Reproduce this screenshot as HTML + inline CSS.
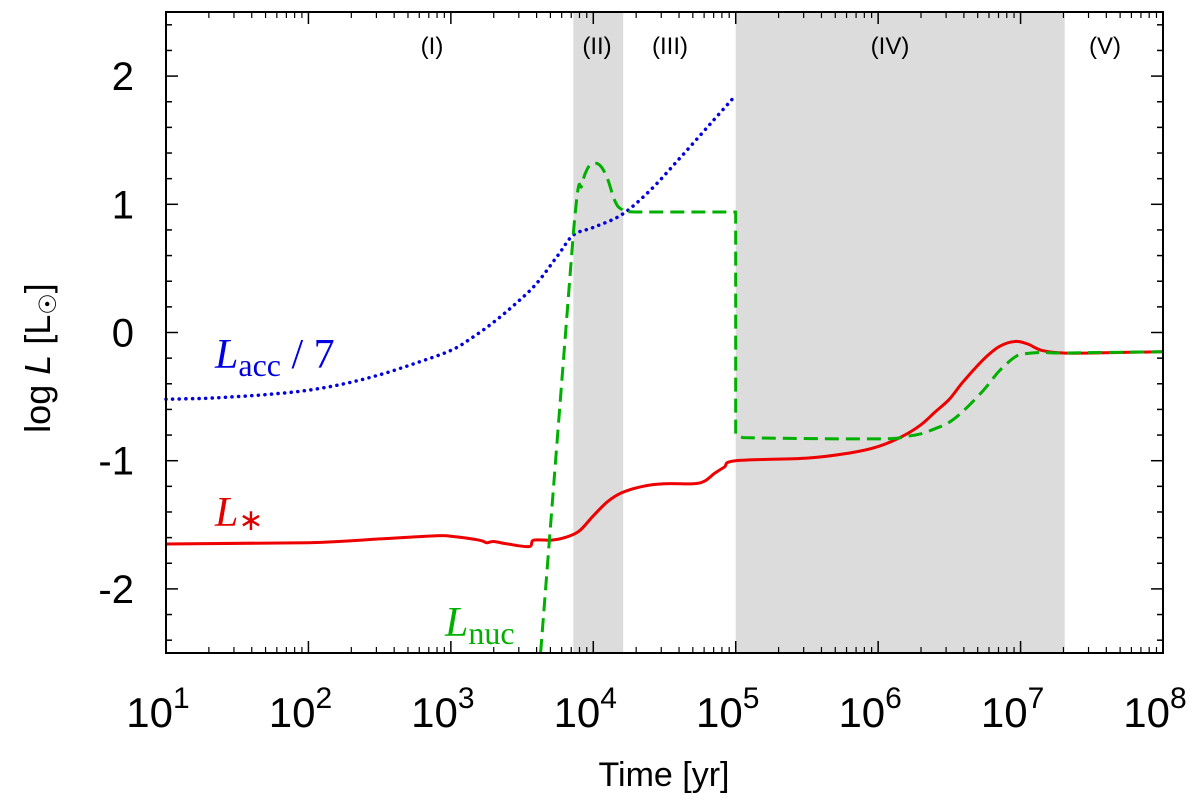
<!DOCTYPE html>
<html><head><meta charset="utf-8"><style>
body{margin:0;background:#fff}
</style></head><body>
<svg id="chart" width="1200" height="799" xmlns="http://www.w3.org/2000/svg" font-family="Liberation Sans, sans-serif">
<g id="bands"></g>
<g id="series"></g>
<g id="axes"></g>
<g id="labels">
<text x="432" y="54" font-size="24" text-anchor="middle">(I)</text>
<text x="597" y="54" font-size="24" text-anchor="middle">(II)</text>
<text x="670" y="54" font-size="24" text-anchor="middle">(III)</text>
<text x="890" y="54" font-size="24" text-anchor="middle">(IV)</text>
<text x="1105" y="54" font-size="24" text-anchor="middle">(V)</text>
<text x="215" y="368" style="font-family:'Liberation Serif',serif;font-size:42px" fill="#0000e0"><tspan font-style="italic">L</tspan><tspan style="font-size:32px" dy="8">acc</tspan><tspan dy="-8"> / 7</tspan></text>
<text x="215" y="526" style="font-family:'Liberation Serif',serif;font-size:42px" fill="#e00000"><tspan font-style="italic">L</tspan><tspan style="font-size:30px" dy="4">∗</tspan></text>
<text x="445" y="636" style="font-family:'Liberation Serif',serif;font-size:42px" fill="#00b000"><tspan font-style="italic">L</tspan><tspan style="font-size:32px" dy="8">nuc</tspan></text>
<text x="664" y="786" font-size="34" text-anchor="middle">Time [yr]</text>
<text transform="translate(50,358) rotate(-90)" font-size="36" text-anchor="middle">log <tspan font-style="italic">L</tspan> [L<tspan font-size="24" dy="6">☉</tspan><tspan dy="-6">]</tspan></text>
</g>
</svg>
<script>
const bandStarts=[3.86,5.0];
const bandEnds=[4.21,7.31];
const xTicks=[1,2,3,4,5,6,7,8];
const yTicks=[-2,-1,0,1,2];
const yTickLabels=["-2","-1","0","1","2"];
const lstarT=[1,2,2.5,2.9,3.0,3.2,3.25,3.3,3.4,3.55,3.58,3.7,3.8,3.9,4.0,4.1,4.2,4.35,4.5,4.7,4.78,4.85,4.92,5.0,5.5,5.8,6.0,6.17,6.3,6.4,6.5,6.6,6.74,6.85,6.96,7.05,7.15,7.3,7.5,8];
const lstarL=[-1.65,-1.64,-1.61,-1.585,-1.59,-1.62,-1.64,-1.63,-1.65,-1.67,-1.62,-1.62,-1.6,-1.55,-1.43,-1.32,-1.25,-1.2,-1.18,-1.18,-1.16,-1.1,-1.05,-1.0,-0.98,-0.94,-0.89,-0.81,-0.72,-0.62,-0.52,-0.38,-0.21,-0.11,-0.07,-0.09,-0.14,-0.16,-0.16,-0.15];
const laccT=[1,1.25,1.5,1.75,2,2.25,2.5,2.75,3,3.15,3.3,3.45,3.6,3.75,3.86,4.0,4.2,4.4,4.6,4.8,5.0];
const laccL=[-0.52,-0.515,-0.5,-0.48,-0.45,-0.4,-0.33,-0.24,-0.14,-0.04,0.08,0.22,0.38,0.6,0.76,0.82,0.92,1.11,1.35,1.6,1.85];
const lnucT=[3.63,3.86,3.92,3.96,4.0,4.05,4.1,4.15,4.2,4.3,5.0,5.0,5.05,6.0,6.2,6.3,6.4,6.5,6.6,6.74,6.85,6.95,7.01,7.15,7.3,8];
const lnucL=[-2.5,0.77,1.15,1.28,1.32,1.3,1.2,1.03,0.96,0.94,0.94,-0.8,-0.82,-0.83,-0.81,-0.79,-0.75,-0.7,-0.61,-0.45,-0.3,-0.2,-0.17,-0.155,-0.16,-0.15];
const X0=166,X1=1163,Y0=12,Y1=653;
function sx(t){return X0+(t-1)/7*(X1-X0);}
function sy(l){return Y0+(2.5-l)/5*(Y1-Y0);}
const NS="http://www.w3.org/2000/svg";
function mk(tag,attrs,parent){const e=document.createElementNS(NS,tag);for(const k in attrs)e.setAttribute(k,attrs[k]);parent.appendChild(e);return e;}
const bands=document.getElementById('bands');
bandStarts.forEach((s,i)=>{
 const r=mk('rect',{x:sx(s),y:Y0,width:sx(bandEnds[i])-sx(s),height:Y1-Y0,fill:'#dcdcdc'},bands);
 
 
});
const ser=document.getElementById('series');
function line(T,L,color,dash,name,w){
 const P=T.map((t,i)=>[sx(t),sy(L[i])]);
 let d='M'+P[0][0].toFixed(1)+','+P[0][1].toFixed(1);
 for(let i=0;i<P.length-1;i++){
  const p0=P[Math.max(0,i-1)],p1=P[i],p2=P[i+1],p3=P[Math.min(P.length-1,i+2)];
  if(Math.abs(p1[0]-p2[0])<0.5){d+='L'+p2[0].toFixed(1)+','+p2[1].toFixed(1);continue;}
  const k=(Math.abs(p0[0]-p1[0])<0.5||Math.abs(p2[0]-p3[0])<0.5)?0:1/6;
  const c1=[p1[0]+(p2[0]-p0[0])*k,p1[1]+(p2[1]-p0[1])*k];
  const c2=[p2[0]-(p3[0]-p1[0])*k,p2[1]-(p3[1]-p1[1])*k];
  d+='C'+c1[0].toFixed(1)+','+c1[1].toFixed(1)+' '+c2[0].toFixed(1)+','+c2[1].toFixed(1)+' '+p2[0].toFixed(1)+','+p2[1].toFixed(1);
 }
 const p=mk('path',{d:d,fill:'none',stroke:color,'stroke-width':w,'stroke-dasharray':dash,'stroke-linecap':dash==='0.1 6.5'?'round':'butt','stroke-linejoin':'round'},ser);
 
 
}
line(laccT,laccL,'#0000e0','0.1 6.5','lacc-line',3.5);
line(lstarT,lstarL,'#ee0000','none','lstar-line',3);
line(lnucT,lnucL,'#00b000','14 7','lnuc-line',3);
const ax=document.getElementById('axes');
const fr=mk('rect',{x:X0,y:Y0,width:X1-X0,height:Y1-Y0,fill:'none',stroke:'#000','stroke-width':2},ax);


xTicks.forEach(t=>{
 const x=sx(t);
 mk('line',{x1:x,y1:Y1,x2:x,y2:Y1-12,stroke:'#000','stroke-width':1.5},ax);
 mk('line',{x1:x,y1:Y0,x2:x,y2:Y0+12,stroke:'#000','stroke-width':1.5},ax);
 if(t<8){for(let m=2;m<10;m++){const xm=sx(t+Math.log10(m));
  mk('line',{x1:xm,y1:Y1,x2:xm,y2:Y1-6,stroke:'#000','stroke-width':1.2},ax);
  mk('line',{x1:xm,y1:Y0,x2:xm,y2:Y0+6,stroke:'#000','stroke-width':1.2},ax);}}
 const tx=mk('text',{x:x-8,y:727,'font-size':42,'text-anchor':'middle'},ax);
 
 
 tx.innerHTML='10<tspan font-size="30" dy="-19">'+t+'</tspan>';
});
for(let v=-2.4;v<=2.41;v+=0.2){
 const y=sy(v);const major=Math.abs(v-Math.round(v))<0.01;const len=major?12:6;
 mk('line',{x1:X0,y1:y,x2:X0+len,y2:y,stroke:'#000','stroke-width':1.5},ax);
 mk('line',{x1:X1,y1:y,x2:X1-len,y2:y,stroke:'#000','stroke-width':1.5},ax);
}
yTicks.forEach((v,i)=>{
 const t=mk('text',{x:134,y:sy(v)+14,'font-size':40,'text-anchor':'end'},ax);
 
 
 t.textContent=yTickLabels[i];
});
</script>
</body></html>
